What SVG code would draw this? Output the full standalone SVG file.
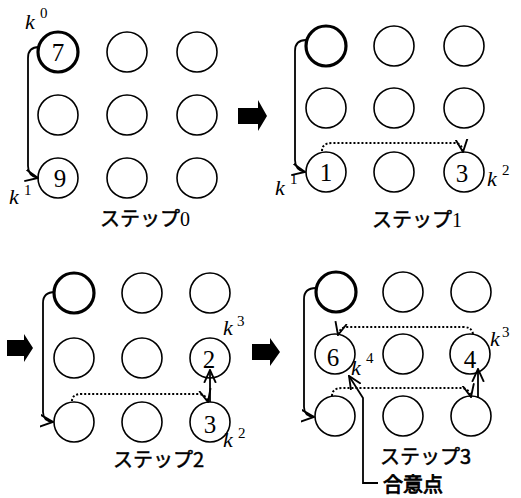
<svg xmlns="http://www.w3.org/2000/svg" width="521" height="498" viewBox="0 0 521 498">
<style>
.c{fill:#fff;stroke:#000;stroke-width:1.6}
.t{fill:#fff;stroke:#000;stroke-width:3.2}
.n{font-family:"Liberation Serif",serif;font-size:25px;text-anchor:middle;fill:#000}
.k{font-family:"Liberation Serif",serif;font-style:italic;font-size:22px;fill:#000}
.s{font-family:"Liberation Serif",serif;font-size:15px;fill:#000}
.l{font-family:"Noto Sans CJK JP","Liberation Sans",sans-serif;font-size:20px;font-weight:400;fill:#000;stroke:#000;stroke-width:0.5}
.a{fill:none;stroke:#000;stroke-width:1.8;marker-end:url(#ah)}
.d{fill:none;stroke:#000;stroke-width:2;stroke-dasharray:2 2;marker-end:url(#ah)}
.b{fill:#000}
</style>
<defs>
<marker id="ah" markerUnits="userSpaceOnUse" markerWidth="14" markerHeight="14" refX="11" refY="5" orient="auto" viewBox="0 0 12 10">
<path d="M0,0 L11,5 L0,10" fill="none" stroke="#000" stroke-width="1.6"/>
</marker>
</defs>

<g id="panel0">
<g id="p0n11"><circle class="t" cx="58" cy="52" r="20"/><text class="n" x="58" y="61">7</text></g>
<g id="p0n12"><circle class="c" cx="127" cy="52" r="20"/></g>
<g id="p0n13"><circle class="c" cx="197" cy="52" r="20"/></g>
<g id="p0n21"><circle class="c" cx="58" cy="115" r="20"/></g>
<g id="p0n22"><circle class="c" cx="127" cy="115" r="20"/></g>
<g id="p0n23"><circle class="c" cx="197" cy="115" r="20"/></g>
<g id="p0n31"><circle class="c" cx="58" cy="178" r="20"/><text class="n" x="60" y="187">9</text></g>
<g id="p0n32"><circle class="c" cx="127" cy="178" r="20"/></g>
<g id="p0n33"><circle class="c" cx="197" cy="178" r="20"/></g>
<text class="k" x="25" y="29">k</text><text class="s" x="40" y="18">0</text>
<text class="k" x="9" y="204">k</text><text class="s" x="24" y="195">1</text>
<text class="l" x="100" y="226">ステップ<tspan font-family="Liberation Serif" stroke-width="0">0</tspan></text>
</g>

<g id="panel1">
<g id="p1n11"><circle class="t" cx="326" cy="46" r="20"/></g>
<g id="p1n12"><circle class="c" cx="394" cy="46" r="20"/></g>
<g id="p1n13"><circle class="c" cx="464" cy="46" r="20"/></g>
<g id="p1n21"><circle class="c" cx="326" cy="108" r="20"/></g>
<g id="p1n22"><circle class="c" cx="394" cy="108" r="20"/></g>
<g id="p1n23"><circle class="c" cx="464" cy="108" r="20"/></g>
<g id="p1n31"><circle class="c" cx="326" cy="172" r="20"/><text class="n" x="326" y="181">1</text></g>
<g id="p1n32"><circle class="c" cx="394" cy="172" r="20"/></g>
<g id="p1n33"><circle class="c" cx="464" cy="172" r="20"/><text class="n" x="462" y="182">3</text></g>
<text class="k" x="275" y="195">k</text><text class="s" x="290" y="184">1</text>
<text class="k" x="487" y="186">k</text><text class="s" x="502" y="175">2</text>
<text class="l" x="372" y="227">ステップ<tspan font-family="Liberation Serif" stroke-width="0">1</tspan></text>
</g>

<g id="panel2">
<g id="p2n11"><circle class="t" cx="74" cy="293" r="20"/></g>
<g id="p2n12"><circle class="c" cx="142" cy="293" r="20"/></g>
<g id="p2n13"><circle class="c" cx="210" cy="293" r="20"/></g>
<g id="p2n21"><circle class="c" cx="74" cy="358" r="20"/></g>
<g id="p2n22"><circle class="c" cx="142" cy="358" r="20"/></g>
<g id="p2n23"><circle class="c" cx="210" cy="358" r="20"/><text class="n" x="209" y="368">2</text></g>
<g id="p2n31"><circle class="c" cx="74" cy="422" r="20"/></g>
<g id="p2n32"><circle class="c" cx="142" cy="422" r="20"/></g>
<g id="p2n33"><circle class="c" cx="210" cy="422" r="20"/><text class="n" x="210" y="433">3</text></g>
<text class="k" x="223" y="335">k</text><text class="s" x="237" y="326">3</text>
<text class="k" x="223" y="447">k</text><text class="s" x="238" y="438">2</text>
<text class="l" x="113" y="467">ステップ2</text>
</g>

<g id="panel3">
<g id="p3n11"><circle class="t" cx="336" cy="292" r="20"/></g>
<g id="p3n12"><circle class="c" cx="403" cy="292" r="20"/></g>
<g id="p3n13"><circle class="c" cx="471" cy="292" r="20"/></g>
<g id="p3n21"><circle class="c" cx="335" cy="354" r="20"/><text class="n" x="333" y="366">6</text></g>
<g id="p3n22"><circle class="c" cx="403" cy="354" r="20"/></g>
<g id="p3n23"><circle class="c" cx="470" cy="354" r="20"/><text class="n" x="470" y="368">4</text></g>
<g id="p3n31"><circle class="c" cx="335" cy="416" r="20"/></g>
<g id="p3n32"><circle class="c" cx="403" cy="416" r="20"/></g>
<g id="p3n33"><circle class="c" cx="471" cy="416" r="20"/></g>
<text class="k" x="490" y="346">k</text><text class="s" x="502" y="337">3</text>
<text class="k" x="351" y="375">k</text><text class="s" x="366" y="363">4</text>
<text class="l" x="380" y="464">ステップ3</text>
<text class="l" x="383" y="492" style="font-size:20px;stroke-width:0.9">合意点</text>
</g>

<g id="bigArrows">
<polygon class="b" points="238,108 258,108 258,100 267,116 258,131 258,124 238,124"/>
<polygon class="b" points="7,340 24,340 24,334 33,348 24,362 24,356 7,356"/>
<polygon class="b" points="252,344 270,344 270,338 280,352 270,366 270,360 252,360"/>
</g>

<g id="connectors">
<path class="a" d="M39,47 Q28,47 28,58 V166 Q28,176 38,178"/>
<path class="a" d="M306,40 Q295,40 295,51 V160 Q295,170 305,172"/>
<path class="d" d="M322,151 Q322,143 332,143 H454 Q462,143 463,152"/>
<path class="a" d="M55,292 Q43,292 43,303 V412 Q43,421 53,422"/>
<path class="d" d="M72,401 Q72,394 82,394 H198 Q206,394 208,402"/>
<path class="a" d="M210,402 V370"/>
<path class="a" d="M316,288 Q304,288 304,299 V407 Q304,416 314,417"/>
<path class="d" d="M332,396 Q332,388 342,388 H461 Q469,388 471,397"/>
<path class="a" d="M478,398 V369"/>
<path class="d" d="M473,334 Q472,327 463,327 H347 Q340,327 338,335"/>
<path class="a" d="M378,483 H363 V398 L349,376"/>
</g>
</svg>
